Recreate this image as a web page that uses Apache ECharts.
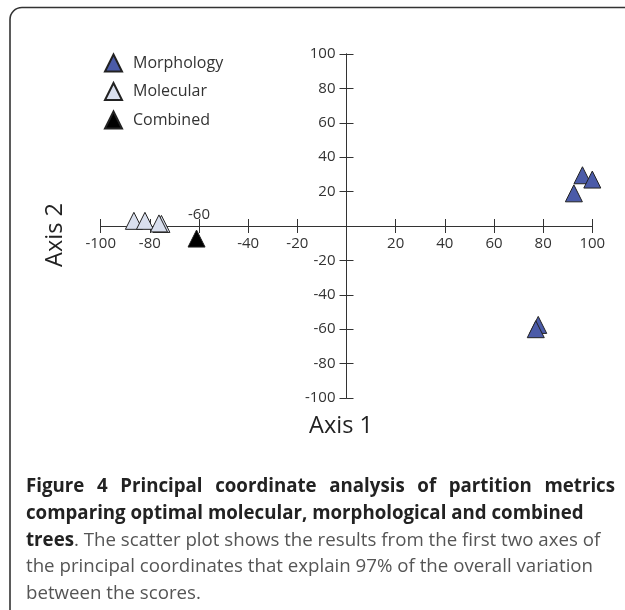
<!DOCTYPE html>
<html><head><meta charset="utf-8">
<script src="https://cdn.jsdelivr.net/npm/echarts@6/dist/echarts.min.js"></script>
<style>
html,body{margin:0;padding:0;background:#fff;}
#chart{position:absolute;left:0;top:0;width:625px;height:610px;}
#cap{position:absolute;left:26px;top:472px;width:589px;font-family:'Open Sans',sans-serif;font-size:18.7px;line-height:26.8px;color:#555;}
#cap b{color:#222;font-weight:bold;}
#cap div{white-space:nowrap;}
#cap div.l1{white-space:normal;text-align:justify;text-align-last:justify;}
</style></head>
<body>
<div id="chart"></div>
<div id="cap">
<div class="l1"><b>Figure 4 Principal coordinate analysis of partition metrics</b></div>
<div><b>comparing optimal molecular, morphological and combined</b></div>
<div><b>trees</b>. The scatter plot shows the results from the first two axes of</div>
<div>the principal coordinates that explain 97% of the overall variation</div>
<div>between the scores.</div>
</div>
<script>
// ---- data ----
const seriesNames = ['Morphology', 'Molecular', 'Combined'];
const morphology = [[96, 29.5], [100, 27], [92.5, 19], [78, -57.5], [77, -60]];
const molecular = [[-86.5, 3], [-82, 3], [-75.3, 1.2], [-76.3, 1.5]];
const combined = [[-61, -7.3]];
const xLabelsBelow = [-100, -80, -40, -20, 20, 40, 60, 80, 100];
const xLabelsAbove = [-60];
const yLabels = [-100, -80, -60, -40, -20, 20, 40, 60, 80, 100];
const xMin = -100, xMax = 100, yMin = -100, yMax = 100, step = 20;

const FONT = "'Open Sans', sans-serif";
const AX = '#333';
const W = 625, H = 610;
const G = {left: 100.7, right: 32.7, top: 54, bottom: 212};
const gw = W - G.left - G.right, gh = H - G.top - G.bottom;
// move the axes onto the zero lines (axes cross at the origin)
const offBottom = -gh * (0 - yMin) / (yMax - yMin);
const offTop = -gh * (yMax - 0) / (yMax - yMin);
const offLeft = -gw * (0 - xMin) / (xMax - xMin);
const offRight = -gw * (xMax - 0) / (xMax - xMin);

const chart = echarts.init(document.getElementById('chart'), null, {renderer: 'canvas'});

function axisCfg(min, max, pos, offset, labels, margin) {
  return {
    type: 'value', min: min, max: max, interval: step, position: pos, offset: offset,
    axisLine: {show: true, onZero: false, lineStyle: {color: AX, width: 1}},
    axisTick: {show: true, length: 7, lineStyle: {color: AX, width: 1}},
    axisLabel: {show: labels.length > 0, margin: margin, color: AX, fontSize: 15, fontFamily: FONT,
      showMinLabel: true, showMaxLabel: true, hideOverlap: false,
      formatter: v => labels.indexOf(v) >= 0 ? String(v) : ''},
    splitLine: {show: false}
  };
}
function sc(name, data, color) {
  return {
    name: name, type: 'scatter', data: data, symbol: 'triangle', symbolSize: 17,
    xAxisIndex: 0, yAxisIndex: 0,
    itemStyle: {color: color, borderColor: '#222', borderWidth: 1, opacity: 1},
    emphasis: {disabled: true}
  };
}

chart.setOption({
  animation: false,
  grid: {left: G.left, right: G.right, top: G.top, bottom: G.bottom, containLabel: false, outerBoundsMode: 'none'},
  xAxis: [axisCfg(xMin, xMax, 'bottom', offBottom, xLabelsBelow, 10),
          axisCfg(xMin, xMax, 'top', offTop, xLabelsAbove, 4)],
  yAxis: [axisCfg(yMin, yMax, 'left', offLeft, yLabels, 11),
          axisCfg(yMin, yMax, 'right', offRight, [], 8)],
  legend: {
    data: seriesNames, orient: 'vertical', left: 104, top: 53.5, padding: 0,
    icon: 'triangle', itemWidth: 17, itemHeight: 17, itemGap: 9.5,
    textStyle: {fontSize: 16, color: '#333', fontFamily: FONT, padding: [0, 0, 0, 6]},
    selectedMode: false
  },
  series: [
    sc(seriesNames[0], morphology, '#4b5ba8'),
    sc(seriesNames[1], molecular, '#d9dfee'),
    sc(seriesNames[2], combined, '#000000')
  ],
  graphic: [
    {type: 'rect', silent: true, shape: {x: 10, y: 7.5, width: 700, height: 700, r: 12},
     style: {fill: 'none', stroke: '#333', lineWidth: 1.6}},
    {type: 'text', silent: true, x: 341, y: 426,
     style: {text: 'Axis 1', fontSize: 23.5, fontFamily: FONT, fill: '#222', align: 'center', verticalAlign: 'middle'}},
    {type: 'text', silent: true, x: 55, y: 235, rotation: Math.PI / 2,
     style: {text: 'Axis 2', fontSize: 23.5, fontFamily: FONT, fill: '#222', align: 'center', verticalAlign: 'middle'}}
  ]
});
</script>
</body></html>
